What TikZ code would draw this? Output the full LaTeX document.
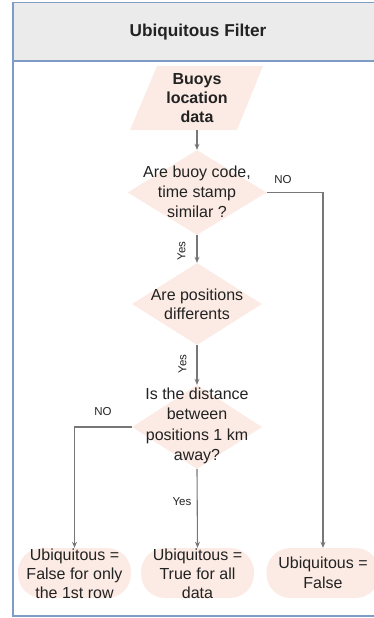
\documentclass[tikz,border=0pt]{standalone}
\usepackage{fontspec}
\setmainfont{Liberation Sans}
\usetikzlibrary{shapes.geometric,arrows.meta}
\definecolor{framec}{HTML}{7E9CC6}
\definecolor{headc}{HTML}{EBEBEB}
\definecolor{peach}{HTML}{FCEBE4}
\definecolor{linec}{HTML}{777777}
\definecolor{txtc}{HTML}{222222}
\tikzset{
  body/.style={font=\fontsize{16}{20}\selectfont, text=txtc, align=center},
  small/.style={font=\fontsize{11.5}{13}\selectfont, text=txtc},
  decision/.style={shape=diamond, fill=peach, draw=none, inner sep=0pt},
  endbox/.style={shape=rectangle, rounded corners=24pt, fill=peach, draw=none,
                 minimum width=113pt, minimum height=50pt, inner sep=0pt},
  flow/.style={draw=linec, line width=1.1pt, -{Stealth[length=6pt,width=5pt]}},
}
\begin{document}
\begin{tikzpicture}[x=1pt,y=-1pt]
\clip (0,0) rectangle (374,618);
% frame and header band
\fill[headc] (13,2.5) rectangle (380,61);
\draw[framec, line width=1.3pt] (13,2.5) rectangle (380,616);
\draw[framec, line width=1.3pt] (13,61) -- (380,61);
\node[font=\bfseries\fontsize{17.2}{20}\selectfont, text=txtc] (title) at (198,32.5) {Ubiquitous Filter};

% input data (parallelogram)
\fill[peach] (157,66) -- (263,66) -- (237,130) -- (130,130) -- cycle;
\node[body, font=\bfseries\fontsize{16}{19}\selectfont, minimum height=64pt, inner sep=0pt] (src) at (197,98)
  {Buoys\\location\\data};

% decisions
\node[decision, minimum width=139pt, minimum height=85pt] (d1) at (197,192.5) {};
\node[body] (d1t) at (197,192) {Are buoy code,\\time stamp\\similar ?};

\node[decision, minimum width=130pt, minimum height=82pt] (d2) at (197,304) {};
\node[body, font=\fontsize{16}{19}\selectfont] (d2t) at (197,304) {Are positions\\differents};

\node[decision, minimum width=130pt, minimum height=84pt] (d3) at (197,427) {};
\node[body, font=\fontsize{16}{20.5}\selectfont] (d3t) at (197,426) {Is the distance\\between\\positions 1 km\\away?};

% outcomes
\node[endbox] (left) at (74.5,573) {};
\node[body, font=\fontsize{16}{19}\selectfont] (leftt) at (74.5,574) {Ubiquitous =\\False for only\\the 1st row};
\node[endbox] (mid) at (197.5,573) {};
\node[body, font=\fontsize{16}{19}\selectfont] (midt) at (197.5,574) {Ubiquitous =\\True for all\\data};
\node[endbox] (right) at (323,573) {};
\node[body] (rightt) at (323,573) {Ubiquitous =\\False};

% connectors
\draw[flow] (src.south) -- (d1.north);
\draw[flow] (d1.south) -- (d2.north);
\node[small, rotate=90] (y1) at (181.5,251) {Yes};
\draw[flow] (d2.south) -- (d3.north);
\node[small, rotate=90] (y2) at (182.5,364) {Yes};
\draw[flow] (d3.south) -- (mid.north);
\node[small] (y3) at (182,502) {Yes};
\draw[flow] (d1.east) -| (right.north);
\node[small] (n1) at (283,180) {NO};
\draw[flow] (d3.west) -| (left.north);
\node[small] (n2) at (103,412) {NO};
\end{tikzpicture}
\end{document}
